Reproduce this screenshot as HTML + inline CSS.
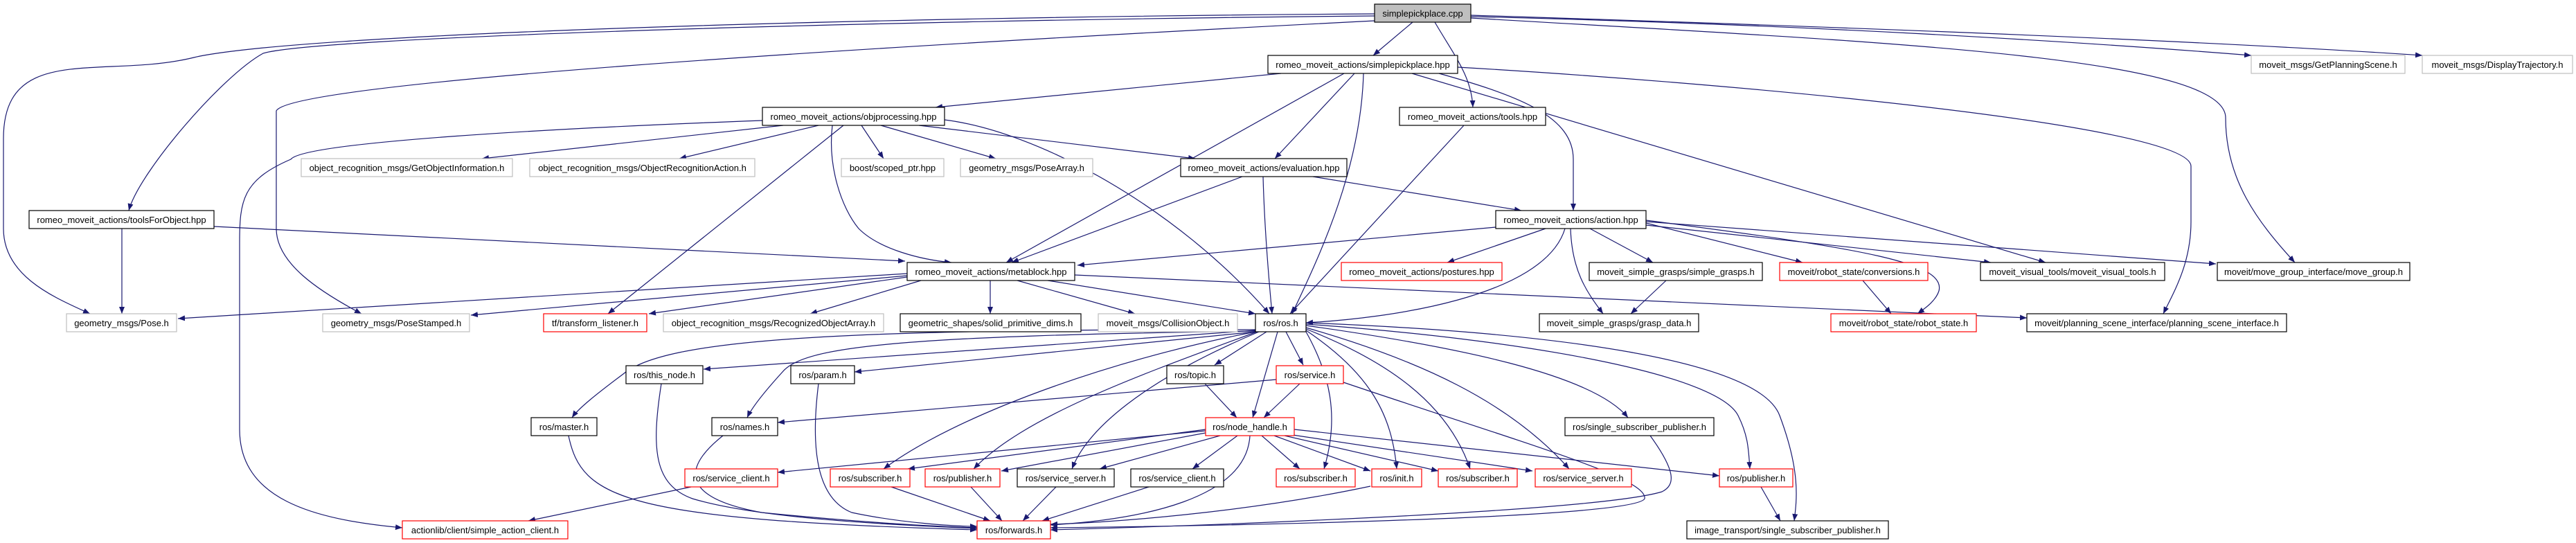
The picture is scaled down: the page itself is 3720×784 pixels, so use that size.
<!DOCTYPE html>
<html><head><meta charset="utf-8"><style>
html,body{margin:0;padding:0;background:#fff;}
svg{display:block;}
text{font-family:"Liberation Sans",sans-serif;font-size:13px;fill:#000;}
.e{fill:none;stroke:#191970;stroke-width:1.2;marker-end:url(#a);}
.b{fill:#fff;stroke:#000;stroke-width:1.2;}
.g{fill:#fff;stroke:#bfbfbf;stroke-width:1.2;}
.r{fill:#fff;stroke:#ff0000;stroke-width:1.2;}
</style></head><body>
<svg width="3720" height="784" viewBox="0 0 3720 784" xmlns="http://www.w3.org/2000/svg">
<defs><marker id="a" markerUnits="userSpaceOnUse" markerWidth="11" markerHeight="8" refX="10" refY="4" orient="auto"><path d="M0,0 L10,4 L0,8 z" fill="#191970"/></marker></defs>
<g>
<path class="e" d="M2040,32 L1983,80"/>
<path class="e" d="M2072,32 C2100,80 2125,110 2127,155"/>
<path class="e" d="M2124,24 C2600,35 3000,60 3251,80"/>
<path class="e" d="M2124,22 C2700,40 3200,60 3498,80"/>
<path class="e" d="M2124,26 C2700,60 3214,80 3214,170 C3214,260 3260,320 3314,379"/>
<path class="e" d="M1985,20 C1200,25 420,50 280,83 C150,115 5,60 5,200 L5,330 C5,400 80,430 130,453"/>
<path class="e" d="M1985,23 C1200,30 450,55 380,77 C320,110 200,250 186,304"/>
<path class="e" d="M1985,30 C1200,70 420,120 399,160 L399,330 C399,380 460,420 522,453"/>
<path class="e" d="M2105,97 C2500,120 3164,180 3164,240 L3164,320 C3164,380 3140,420 3124,453"/>
<path class="e" d="M1850,106 L1351,155"/>
<path class="e" d="M1941,106 L1453,379"/>
<path class="e" d="M1956,106 L1841,229"/>
<path class="e" d="M1969,106 C1965,250 1900,380 1866,453"/>
<path class="e" d="M2078,106 C2200,140 2272,170 2272,230 L2272,304"/>
<path class="e" d="M2039,106 L2954,379"/>
<path class="e" d="M2114,181 L1863,453"/>
<path class="e" d="M1131,181 L696,229"/>
<path class="e" d="M1182,181 L981,229"/>
<path class="e" d="M1244,181 L1276,229"/>
<path class="e" d="M1272,181 L1438,229"/>
<path class="e" d="M1327,181 L1726,229"/>
<path class="e" d="M1218,181 L878,453"/>
<path class="e" d="M1202,181 C1195,240 1215,300 1240,330 C1270,360 1330,375 1374,379"/>
<path class="e" d="M1364,173 C1500,190 1700,300 1833,453"/>
<path class="e" d="M1101,174 C800,185 440,205 420,230 C350,260 346,290 346,350 L346,620 C346,720 450,750 581,762"/>
<path class="e" d="M1794,255 L1461,379"/>
<path class="e" d="M1824,255 C1826,330 1832,400 1837,453"/>
<path class="e" d="M1896,255 L2197,304"/>
<path class="e" d="M176,330 L176,453"/>
<path class="e" d="M309,327 L1307,377"/>
<path class="e" d="M2160,328 L1556,383"/>
<path class="e" d="M2232,330 L2090,379"/>
<path class="e" d="M2296,330 L2387,379"/>
<path class="e" d="M2260,330 C2230,430 2000,460 1886,466"/>
<path class="e" d="M2268,330 C2270,390 2290,420 2315,453"/>
<path class="e" d="M2377,322 L2603,379"/>
<path class="e" d="M2377,318 C2700,360 2810,380 2800,420 C2795,435 2780,445 2769,453"/>
<path class="e" d="M2377,325 L2875,379"/>
<path class="e" d="M2377,320 L3200,381"/>
<path class="e" d="M1310,395 L257,460"/>
<path class="e" d="M1310,398 L680,455"/>
<path class="e" d="M1310,400 L937,453"/>
<path class="e" d="M1330,405 L1170,453"/>
<path class="e" d="M1430,405 L1430,453"/>
<path class="e" d="M1469,405 L1639,453"/>
<path class="e" d="M1513,405 L1813,453"/>
<path class="e" d="M1552,397 L2927,459"/>
<path class="e" d="M2406,405 L2355,453"/>
<path class="e" d="M2690,405 L2731,453"/>
<path class="e" d="M1813,476 C1200,475 960,490 900,540 C860,570 835,590 826,603"/>
<path class="e" d="M1813,477 L1016,533"/>
<path class="e" d="M1813,478 C1300,485 1160,500 1130,537 C1100,570 1085,590 1079,603"/>
<path class="e" d="M1813,479 L1234,537"/>
<path class="e" d="M1813,479 C1600,520 1380,600 1276,677"/>
<path class="e" d="M1815,479 C1650,540 1480,600 1406,677"/>
<path class="e" d="M1818,479 C1650,550 1570,620 1548,677"/>
<path class="e" d="M1829,479 L1754,527"/>
<path class="e" d="M1845,479 L1809,603"/>
<path class="e" d="M1857,479 L1882,527"/>
<path class="e" d="M1886,479 C1920,540 1935,600 1912,677"/>
<path class="e" d="M1886,477 C1980,540 2010,600 2017,677"/>
<path class="e" d="M1886,475 C2000,520 2090,580 2123,677"/>
<path class="e" d="M1886,473 C2050,520 2180,580 2266,677"/>
<path class="e" d="M1886,470 C2100,500 2300,540 2351,603"/>
<path class="e" d="M1886,468 C2200,490 2480,540 2510,600 C2525,630 2525,650 2527,677"/>
<path class="e" d="M1886,466 C2250,480 2540,520 2570,600 C2600,680 2595,720 2591,752"/>
<path class="e" d="M1843,548 L1123,610"/>
<path class="e" d="M1877,554 L1825,603"/>
<path class="e" d="M1940,552 C2200,640 2380,690 2375,720 C2360,750 1700,760 1517,762"/>
<path class="e" d="M1740,554 L1786,603"/>
<path class="e" d="M1741,622 L1123,682"/>
<path class="e" d="M1741,620 L1311,677"/>
<path class="e" d="M1741,625 L1446,680"/>
<path class="e" d="M1762,629 L1588,677"/>
<path class="e" d="M1787,629 L1722,677"/>
<path class="e" d="M1805,629 C1800,720 1650,750 1517,758"/>
<path class="e" d="M1822,629 L1877,677"/>
<path class="e" d="M1840,629 L1979,680"/>
<path class="e" d="M1855,629 L2077,680"/>
<path class="e" d="M1860,627 L2213,680"/>
<path class="e" d="M1869,620 L2483,687"/>
<path class="e" d="M998,703 L763,752"/>
<path class="e" d="M821,629 C840,720 900,750 1411,765"/>
<path class="e" d="M955,554 C940,650 945,700 1000,720 C1100,750 1300,758 1411,763"/>
<path class="e" d="M1044,629 C980,680 990,720 1100,740 C1250,755 1350,760 1411,762"/>
<path class="e" d="M1182,554 C1170,650 1180,720 1230,740 C1300,755 1380,760 1411,760"/>
<path class="e" d="M1287,703 L1430,752"/>
<path class="e" d="M1402,703 L1447,752"/>
<path class="e" d="M1525,703 L1477,752"/>
<path class="e" d="M1659,703 L1505,752"/>
<path class="e" d="M1979,702 C1800,740 1600,755 1517,757"/>
<path class="e" d="M2383,629 C2420,680 2420,700 2400,710 C2300,740 1700,760 1517,765"/>
<path class="e" d="M2543,703 L2571,752"/>
</g>
<g>
<rect x="1985" y="6" width="139" height="26" fill="#bfbfbf" stroke="#000" stroke-width="1.2"/><text x="2054.5" y="24" text-anchor="middle">simplepickplace.cpp</text>
<rect class="b" x="1831" y="80" width="274" height="26"/><text x="1968" y="98" text-anchor="middle">romeo_moveit_actions/simplepickplace.hpp</text>
<rect class="g" x="3251" y="80" width="222" height="26"/><text x="3362" y="98" text-anchor="middle">moveit_msgs/GetPlanningScene.h</text>
<rect class="g" x="3498" y="80" width="217" height="26"/><text x="3606.5" y="98" text-anchor="middle">moveit_msgs/DisplayTrajectory.h</text>
<rect class="b" x="1101" y="155" width="263" height="26"/><text x="1232.5" y="173" text-anchor="middle">romeo_moveit_actions/objprocessing.hpp</text>
<rect class="b" x="2021" y="155" width="211" height="26"/><text x="2126.5" y="173" text-anchor="middle">romeo_moveit_actions/tools.hpp</text>
<rect class="g" x="435" y="229" width="305" height="26"/><text x="587.5" y="247" text-anchor="middle">object_recognition_msgs/GetObjectInformation.h</text>
<rect class="g" x="765" y="229" width="325" height="26"/><text x="927.5" y="247" text-anchor="middle">object_recognition_msgs/ObjectRecognitionAction.h</text>
<rect class="g" x="1215" y="229" width="148" height="26"/><text x="1289" y="247" text-anchor="middle">boost/scoped_ptr.hpp</text>
<rect class="g" x="1387" y="229" width="191" height="26"/><text x="1482.5" y="247" text-anchor="middle">geometry_msgs/PoseArray.h</text>
<rect class="b" x="1705" y="229" width="240" height="26"/><text x="1825" y="247" text-anchor="middle">romeo_moveit_actions/evaluation.hpp</text>
<rect class="b" x="42" y="304" width="267" height="26"/><text x="175.5" y="322" text-anchor="middle">romeo_moveit_actions/toolsForObject.hpp</text>
<rect class="b" x="2160" y="304" width="217" height="26"/><text x="2268.5" y="322" text-anchor="middle">romeo_moveit_actions/action.hpp</text>
<rect class="b" x="1310" y="379" width="242" height="26"/><text x="1431" y="397" text-anchor="middle">romeo_moveit_actions/metablock.hpp</text>
<rect class="r" x="1937" y="379" width="232" height="26"/><text x="2053" y="397" text-anchor="middle">romeo_moveit_actions/postures.hpp</text>
<rect class="b" x="2295" y="379" width="250" height="26"/><text x="2420" y="397" text-anchor="middle">moveit_simple_grasps/simple_grasps.h</text>
<rect class="r" x="2570" y="379" width="214" height="26"/><text x="2677" y="397" text-anchor="middle">moveit/robot_state/conversions.h</text>
<rect class="b" x="2860" y="379" width="266" height="26"/><text x="2993" y="397" text-anchor="middle">moveit_visual_tools/moveit_visual_tools.h</text>
<rect class="b" x="3202" y="379" width="278" height="26"/><text x="3341" y="397" text-anchor="middle">moveit/move_group_interface/move_group.h</text>
<rect class="g" x="96" y="453" width="159" height="26"/><text x="175.5" y="471" text-anchor="middle">geometry_msgs/Pose.h</text>
<rect class="g" x="466" y="453" width="212" height="26"/><text x="572" y="471" text-anchor="middle">geometry_msgs/PoseStamped.h</text>
<rect class="r" x="785" y="453" width="149" height="26"/><text x="859.5" y="471" text-anchor="middle">tf/transform_listener.h</text>
<rect class="g" x="958" y="453" width="318" height="26"/><text x="1117" y="471" text-anchor="middle">object_recognition_msgs/RecognizedObjectArray.h</text>
<rect class="b" x="1300" y="453" width="261" height="26"/><text x="1430.5" y="471" text-anchor="middle">geometric_shapes/solid_primitive_dims.h</text>
<rect class="g" x="1586" y="453" width="201" height="26"/><text x="1686.5" y="471" text-anchor="middle">moveit_msgs/CollisionObject.h</text>
<rect class="b" x="1813" y="453" width="73" height="26"/><text x="1849.5" y="471" text-anchor="middle">ros/ros.h</text>
<rect class="b" x="2223" y="453" width="230" height="26"/><text x="2338" y="471" text-anchor="middle">moveit_simple_grasps/grasp_data.h</text>
<rect class="r" x="2644" y="453" width="210" height="26"/><text x="2749" y="471" text-anchor="middle">moveit/robot_state/robot_state.h</text>
<rect class="b" x="2927" y="453" width="375" height="26"/><text x="3114.5" y="471" text-anchor="middle">moveit/planning_scene_interface/planning_scene_interface.h</text>
<rect class="b" x="904" y="528" width="111" height="26"/><text x="959.5" y="546" text-anchor="middle">ros/this_node.h</text>
<rect class="b" x="1142" y="528" width="92" height="26"/><text x="1188" y="546" text-anchor="middle">ros/param.h</text>
<rect class="b" x="1685" y="528" width="82" height="26"/><text x="1726" y="546" text-anchor="middle">ros/topic.h</text>
<rect class="r" x="1843" y="528" width="97" height="26"/><text x="1891.5" y="546" text-anchor="middle">ros/service.h</text>
<rect class="b" x="767" y="603" width="95" height="26"/><text x="814.5" y="621" text-anchor="middle">ros/master.h</text>
<rect class="b" x="1028" y="603" width="95" height="26"/><text x="1075.5" y="621" text-anchor="middle">ros/names.h</text>
<rect class="r" x="1741" y="603" width="128" height="26"/><text x="1805" y="621" text-anchor="middle">ros/node_handle.h</text>
<rect class="b" x="2260" y="603" width="215" height="26"/><text x="2367.5" y="621" text-anchor="middle">ros/single_subscriber_publisher.h</text>
<rect class="r" x="989" y="677" width="134" height="26"/><text x="1056" y="695" text-anchor="middle">ros/service_client.h</text>
<rect class="r" x="1199" y="677" width="115" height="26"/><text x="1256.5" y="695" text-anchor="middle">ros/subscriber.h</text>
<rect class="r" x="1336" y="677" width="108" height="26"/><text x="1390" y="695" text-anchor="middle">ros/publisher.h</text>
<rect class="b" x="1469" y="677" width="140" height="26"/><text x="1539" y="695" text-anchor="middle">ros/service_server.h</text>
<rect class="b" x="1633" y="677" width="134" height="26"/><text x="1700" y="695" text-anchor="middle">ros/service_client.h</text>
<rect class="r" x="1843" y="677" width="114" height="26"/><text x="1900" y="695" text-anchor="middle">ros/subscriber.h</text>
<rect class="r" x="1981" y="677" width="72" height="26"/><text x="2017" y="695" text-anchor="middle">ros/init.h</text>
<rect class="r" x="2077" y="677" width="114" height="26"/><text x="2134" y="695" text-anchor="middle">ros/subscriber.h</text>
<rect class="r" x="2217" y="677" width="139" height="26"/><text x="2286.5" y="695" text-anchor="middle">ros/service_server.h</text>
<rect class="r" x="2483" y="677" width="106" height="26"/><text x="2536" y="695" text-anchor="middle">ros/publisher.h</text>
<rect class="r" x="581" y="752" width="239" height="26"/><text x="700.5" y="770" text-anchor="middle">actionlib/client/simple_action_client.h</text>
<rect class="r" x="1411" y="752" width="106" height="26"/><text x="1464" y="770" text-anchor="middle">ros/forwards.h</text>
<rect class="b" x="2436" y="752" width="291" height="26"/><text x="2581.5" y="770" text-anchor="middle">image_transport/single_subscriber_publisher.h</text>
</g>
</svg>
</body></html>
